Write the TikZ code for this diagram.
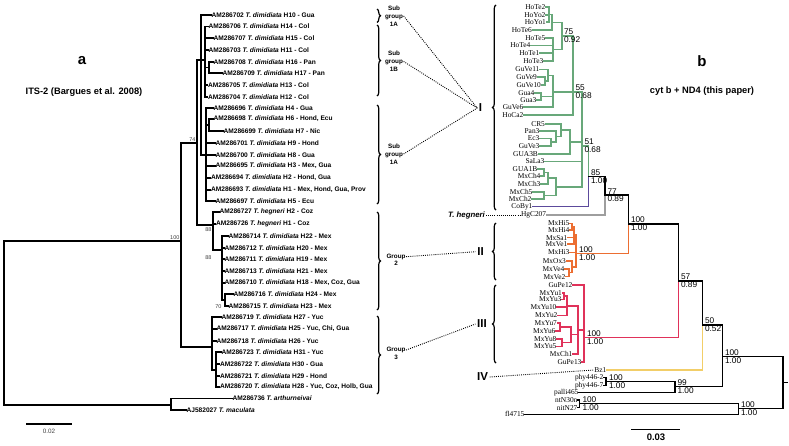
\documentclass[tikz,border=0pt]{standalone}
\usepackage{fontspec}
\setmainfont{Liberation Sans}
\newfontfamily\seriff{Liberation Serif}
\usepackage{tikz}
\usetikzlibrary{positioning,decorations.pathreplacing}
\definecolor{cladegreen}{RGB}{104,168,122}
\definecolor{cladepurple}{RGB}{92,74,156}
\definecolor{cladegray}{RGB}{158,158,158}
\definecolor{cladeorange}{RGB}{236,110,50}
\definecolor{cladered}{RGB}{224,50,90}
\definecolor{cladeyellow}{RGB}{242,206,104}
\newcommand{\td}{\textit{T. dimidiata}}
\newcommand{\support}[5]{%
  \node[bsup] (#1t) at (#2,#3) {#4};
  \node[bsdn] (#1b) at (#2,#3) {#5};}

\begin{document}
\begin{tikzpicture}[x=1pt, y=-1pt,
    tline/.style={line width=1.4pt, line cap=rect},
    bline/.style={line width=1.3pt, line cap=rect},
    gline/.style={bline, cladegreen},
    pline/.style={bline, cladepurple},
    eline/.style={bline, cladegray},
    oline/.style={bline, cladeorange},
    rline/.style={bline, cladered},
    yline/.style={bline, cladeyellow},
    lleaf/.style={anchor=west, inner sep=0.4pt, font=\bfseries\fontsize{6.6}{6.6}\selectfont},
    rleaf/.style={anchor=east, inner sep=0.4pt, font=\seriff\fontsize{7.4}{7.4}\selectfont},
    lboot/.style={inner sep=0.4pt, font=\fontsize{5.5}{5.5}\selectfont, black!75},
    bsup/.style={anchor=south west, inner sep=0.8pt, font=\fontsize{8.3}{8.3}\selectfont},
    bsdn/.style={anchor=north west, inner sep=0.8pt, font=\fontsize{8.3}{8.3}\selectfont},
    glabel/.style={align=center, inner sep=0.5pt, font=\bfseries\fontsize{6.3}{7.8}\selectfont},
    roman/.style={inner sep=1.5pt, font=\bfseries\fontsize{11.5}{11.5}\selectfont},
    brc/.style={line width=1.2pt, decorate, decoration={brace, amplitude=3.5pt}},
    dotline/.style={line width=0.9pt, dash pattern=on 0.9pt off 1.2pt},
    title/.style={font=\bfseries\fontsize{9.3}{9.3}\selectfont}]
  \useasboundingbox (0,0) rectangle (789,445);

  % Titles
  \node[font=\bfseries\fontsize{15}{15}\selectfont] (ta) at (82,61) {a};
  \node[title] (tasub) at (84,92) {ITS-2 (Bargues et al. 2008)};
  \node[font=\bfseries\fontsize{15}{15}\selectfont] (tb) at (702,61) {b};
  \node[title] (tbsub) at (702,91) {cyt b + ND4 (this paper)};

  % ITS-2 tree: leaves
  \foreach \acc/\txt/\y/\xp/\xl in {
      AM286702/{\td\ H10 - Gua}/15/201/211,
      AM286706/{\td\ H14 - Col}/26.5/205/208,
      AM286707/{\td\ H15 - Col}/38/205/213,
      AM286703/{\td\ H11 - Col}/50/205/208,
      AM286708/{\td\ H16 - Pan}/62/209/213,
      AM286709/{\td\ H17 - Pan}/73/209/222,
      AM286705/{\td\ H13 - Col}/85/205/207.5,
      AM286704/{\td\ H12 - Col}/97/205/207.5,
      AM286696/{\td\ H4 - Gua}/108/206/213,
      AM286698/{\td\ H6 - Hond, Ecu}/119/209/213,
      AM286699/{\td\ H7 - Nic}/131/209/223,
      AM286701/{\td\ H9 - Hond}/143/206/215,
      AM286700/{\td\ H8 - Gua}/155/206/215,
      AM286695/{\td\ H3 - Mex, Gua}/166/206/215,
      AM286694/{\td\ H2 - Hond, Gua}/178/206/210.5,
      AM286693/{\td\ H1 - Mex, Hond, Gua, Prov}/190/206/210.5,
      AM286697/{\td\ H5 - Ecu}/201/206/215,
      AM286727/{\textit{T. hegneri} H2 - Coz}/212/213/219,
      AM286726/{\textit{T. hegneri} H1 - Coz}/224/213/215.5,
      AM286714/{\td\ H22 - Mex}/236/222/228,
      AM286712/{\td\ H20 - Mex}/248/222/224,
      AM286711/{\td\ H19 - Mex}/259/222/224,
      AM286713/{\td\ H21 - Mex}/271/222/224,
      AM286710/{\td\ H18 - Mex, Coz, Gua}/283/222/224,
      AM286716/{\td\ H24 - Mex}/294/225/233,
      AM286715/{\td\ H23 - Mex}/306/225/228,
      AM286719/{\td\ H27 - Yuc}/317/212/221,
      AM286717/{\td\ H25 - Yuc, Chi, Gua}/329/212/216,
      AM286718/{\td\ H26 - Yuc}/341/212/216,
      AM286723/{\td\ H31 - Yuc}/352/216/221,
      AM286722/{\td\ H30 - Gua}/364/216/219.5,
      AM286721/{\td\ H29 - Hond}/376/216/219.5,
      AM286720/{\td\ H28 - Yuc, Coz, Holb, Gua}/387/216/219.5,
      AM286736/{\textit{T. arthurneivai}}/398.5/171/232,
      AJ582027/{\textit{T. maculata}}/410/171/186} {
    \node[lleaf] (\acc) at (\xl,\y) {\acc\ \txt};
    \draw[tline] (\xp,\y) -- (\acc.west);
  }
  % ITS-2 tree: inner branches
  \draw[tline] (4,241) -- (4,405);
  \draw[tline] (4,241) -- (181,241);
  \draw[tline] (4,405) -- (171,405);
  \draw[tline] (171,398.5) -- (171,410);
  \draw[tline] (181,143) -- (181,347);
  \draw[tline] (181,143) -- (197,143);
  \draw[tline] (197,60) -- (197,225);
  \draw[tline] (197,60) -- (205,60);
  \draw[tline] (201,15) -- (201,155);
  \draw[tline] (205,26.5) -- (205,97);
  \draw[tline] (205,67.5) -- (209,67.5);
  \draw[tline] (209,62) -- (209,73);
  \draw[tline] (201,155) -- (206,155);
  \draw[tline] (206,108) -- (206,201);
  \draw[tline] (206,125) -- (209,125);
  \draw[tline] (209,119) -- (209,131);
  \draw[tline] (197,225) -- (213,225);
  \draw[tline] (213,212) -- (213,250);
  \draw[tline] (213,250) -- (222,250);
  \draw[tline] (222,236) -- (222,300);
  \draw[tline] (222,300) -- (225,300);
  \draw[tline] (225,294) -- (225,306);
  \draw[tline] (181,347) -- (212,347);
  \draw[tline] (212,317) -- (212,370);
  \draw[tline] (212,370) -- (216,370);
  \draw[tline] (216,352) -- (216,387);
  \node[lboot, anchor=south east] (bt100) at (180,240) {100};
  \node[lboot, anchor=south east] (bt74) at (196,142) {74};
  \node[lboot, anchor=north east] (bt88a) at (212,227) {88};
  \node[lboot, anchor=north east] (bt88b) at (212,255) {88};
  \node[lboot, anchor=east] (bt70) at (222,306.5) {70};

  % scale bars
  \draw[line width=1.2pt] (26,424) -- (72,424);
  \node[font=\fontsize{6.3}{6.3}\selectfont, black!75] (sc02) at (49,431) {0.02};
  \draw[line width=1.4pt] (631,429.3) -- (680,429.3);
  \node[font=\bfseries\fontsize{9.5}{9.5}\selectfont] (sc03) at (656,437.5) {0.03};

  % groups of the ITS-2 tree
  \draw[brc] (377,9) -- (377,22.5);
  \draw[brc] (377,25) -- (377,96);
  \draw[brc] (377,105) -- (377,204);
  \draw[brc] (377,212) -- (377,310);
  \draw[brc] (377,316) -- (377,394);
  \node[glabel] (sub1a) at (394,16) {Sub\\group\\1A};
  \node[glabel] (sub1b) at (394,61.5) {Sub\\group\\1B};
  \node[glabel] (sub1c) at (394,154) {Sub\\group\\1A};
  \node[glabel] (grp2) at (396,256.7) {Group};
  \node[glabel, below=0.6pt of grp2] (grp2n) {2};
  \node[glabel] (grp3) at (396,350) {Group};
  \node[glabel, below=0.6pt of grp3] (grp3n) {3};

  % haplogroups of the mtDNA tree
  \draw[brc] (496,210) -- (496,5);
  \draw[brc] (496,280) -- (496,223);
  \draw[brc] (496,363) -- (496,285);
  \node[roman] (romI) at (480.5,108) {I};
  \node[roman] (romII) at (480.5,251.7) {II};
  \node[roman] (romIII) at (482,324) {III};
  \node[roman] (romIV) at (482.5,377) {IV};
  \node[font=\bfseries\itshape\fontsize{7.8}{7.8}\selectfont, inner sep=1pt] (hegn) at (466.5,215) {T. hegneri};

  % cyt b + ND4 tree: leaves
  \foreach \n/\y/\xe/\xn in {HoTe2/7/546/549, HoYo2/15/546/549, HoYo1/22/546.5/549,
      HoTe6/30/532.5/552, HoTe5/38/546/553, HoTe4/45.5/531/553, HoTe1/53/540/553,
      HoTe3/61/544/553, GuVe11/69.5/540/548, GuVe9/77/537.5/545, GuVe10/85/541.5/545,
      Gua4/93/535/541, Gua3/100/537/541, GuVe6/107/524/553, HoCa2/115/524/573,
      CR5/124/545.5/561, Pan3/131/540/556, Ec3/138.5/540/551, GuVe3/146/540/551,
      GUA3B/154/538.5/570, SaLa3/161.5/545/582, GUA1B/169/538/544, MxCh4/176/541/544,
      MxCh3/184/541/548, MxCh5/192/533/544, MxCh2/199/532/544} {
    \node[rleaf] (\n) at (\xe,\y) {\n};
    \draw[gline] (\n.east) -- (\xn,\y);
  }
  \foreach \n/\y/\xe/\xn in {MxHi5/223.3/570/572, MxHi4/230/570/572, MxSa1/237.7/568/574,
      MxVe1/244/568/574, MxHi3/252.3/570/576, MxOx3/261/566.5/572, MxVe4/269/565/569,
      MxVe2/276.7/566/569} {
    \node[rleaf] (\n) at (\xe,\y) {\n};
    \draw[oline] (\n.east) -- (\xn,\y);
  }
  \foreach \n/\y/\xe/\xn in {GuPe12/285/573/584, MxYu1/293/562.5/564, MxYu3/299.5/562/564,
      MxYu10/307/557/567, MxYu2/315.5/558/567, MxYu7/323/557.5/560, MxYu6/331/556/560,
      MxYu8/339/557/562, MxYu5/346.5/557/562, MxCh1/354/573/578, GuPe13/362/582/584} {
    \node[rleaf] (\n) at (\xe,\y) {\n};
    \draw[rline] (\n.east) -- (\xn,\y);
  }
  \node[rleaf] (CoBy1) at (533,206.7) {CoBy1};
  \draw[pline] (CoBy1.east) -- (588.3,206.7);
  \node[rleaf] (HgC207) at (546.7,215) {HgC207};
  \draw[eline] (HgC207.east) -- (605,215);
  \node[rleaf] (Bz1) at (607,370) {Bz1};
  \draw[yline] (Bz1.east) -- (702.7,370);
  \node[rleaf] (phyA) at (604,377.7) {phy446-2};
  \draw[bline] (phyA.east) -- (606,377.7);
  \node[rleaf] (phyB) at (604,385.7) {phy446-7};
  \draw[bline] (phyB.east) -- (606,385.7);
  \node[rleaf] (palli) at (579,392.7) {palli465};
  \draw[bline] (palli.east) -- (675,392.7);
  \node[rleaf] (ntN30n) at (578,400) {ntN30n};
  \draw[bline] (ntN30n.east) -- (579.5,400);
  \node[rleaf] (nitN27) at (578,407.7) {nitN27};
  \draw[bline] (nitN27.east) -- (579.5,407.7);
  \node[rleaf] (fl4715) at (525,414.3) {fl4715};
  \draw[bline] (fl4715.east) -- (738.3,414.3);

  % cyt b + ND4 tree: green clade
  \draw[gline] (549,7) -- (549,22);
  \draw[gline] (549,14.5) -- (552,14.5);
  \draw[gline] (552,14.5) -- (552,30);
  \draw[gline] (552,22.3) -- (562,22.3);
  \draw[gline] (553,38) -- (553,61);
  \draw[gline] (553,49.5) -- (562,49.5);
  \draw[gline] (562,22.3) -- (562,49.5);
  \draw[gline] (562,36) -- (573,36);
  \draw[gline] (545,77) -- (545,85);
  \draw[gline] (545,81) -- (548,81);
  \draw[gline] (548,69.5) -- (548,81);
  \draw[gline] (548,75.3) -- (553,75.3);
  \draw[gline] (541,93) -- (541,100);
  \draw[gline] (541,96.5) -- (553,96.5);
  \draw[gline] (553,75.3) -- (553,107);
  \draw[gline] (553,92) -- (573,92);
  \draw[gline] (573,36) -- (573,115);
  \draw[gline] (573,92) -- (582,92);
  \draw[gline] (551,138.5) -- (551,146);
  \draw[gline] (551,142) -- (556,142);
  \draw[gline] (556,131) -- (556,142);
  \draw[gline] (556,136.5) -- (561,136.5);
  \draw[gline] (561,124) -- (561,136.5);
  \draw[gline] (561,130) -- (570,130);
  \draw[gline] (570,130) -- (570,154);
  \draw[gline] (570,142) -- (582,142);
  \draw[gline] (544,169) -- (544,176);
  \draw[gline] (544,172.5) -- (548,172.5);
  \draw[gline] (548,172.5) -- (548,184);
  \draw[gline] (548,178) -- (556,178);
  \draw[gline] (544,192) -- (544,199);
  \draw[gline] (544,195.5) -- (556,195.5);
  \draw[gline] (556,178) -- (556,195.5);
  \draw[gline] (556,187) -- (582,187);
  \draw[gline] (582,92) -- (582,187);
  \draw[gline] (582,146) -- (588.3,146);
  % orange clade
  \draw[oline] (572,223.3) -- (572,230);
  \draw[oline] (572,226.7) -- (574,226.7);
  \draw[oline] (574,226.7) -- (574,244);
  \draw[oline] (574,235) -- (576,235);
  \draw[oline] (569,269) -- (569,276.7);
  \draw[oline] (569,272.8) -- (572,272.8);
  \draw[oline] (572,261) -- (572,272.8);
  \draw[oline] (572,267) -- (576,267);
  \draw[oline] (576,235) -- (576,267);
  \draw[oline] (576,253.3) -- (628.3,253.3);
  % red clade
  \draw[rline] (564,293) -- (564,299.5);
  \draw[rline] (564,296) -- (567,296);
  \draw[rline] (567,296) -- (567,315.5);
  \draw[rline] (567,306) -- (578,306);
  \draw[rline] (560,323) -- (560,331);
  \draw[rline] (560,327) -- (571,327);
  \draw[rline] (562,339) -- (562,346.5);
  \draw[rline] (562,342.7) -- (571,342.7);
  \draw[rline] (571,327) -- (571,342.7);
  \draw[rline] (571,334.8) -- (578,334.8);
  \draw[rline] (578,306) -- (578,354);
  \draw[rline] (578,330) -- (584,330);
  \draw[rline] (584,285) -- (584,362);
  \draw[rline] (584,337.3) -- (678.3,337.3);
  % backbone
  \draw[gline] (588.3,146) -- (588.3,176.7);
  \draw[pline] (588.3,176.7) -- (588.3,206.7);
  \draw[bline] (588.3,176.7) -- (605,176.7);
  \draw[bline] (605,176.7) -- (605,195);
  \draw[eline] (605,195) -- (605,215);
  \draw[bline] (605,195) -- (628.3,195);
  \draw[bline] (628.3,195) -- (628.3,224);
  \draw[oline] (628.3,224) -- (628.3,253.3);
  \draw[bline] (628.3,224) -- (678.3,224);
  \draw[bline] (678.3,224) -- (678.3,281);
  \draw[rline] (678.3,281) -- (678.3,337.3);
  \draw[bline] (678.3,281) -- (702.7,281);
  \draw[bline] (702.7,281) -- (702.7,325);
  \draw[yline] (702.7,325) -- (702.7,370);
  \draw[bline] (702.7,325) -- (722.7,325);
  \draw[bline] (606,377.7) -- (606,385.7);
  \draw[bline] (606,381.7) -- (675,381.7);
  \draw[bline] (675,381.7) -- (675,392.7);
  \draw[bline] (675,386.7) -- (722.7,386.7);
  \draw[bline] (722.7,325) -- (722.7,386.7);
  \draw[bline] (722.7,356.7) -- (783,356.7);
  \draw[bline] (579.5,400) -- (579.5,407.7);
  \draw[bline] (579.5,403.3) -- (738.3,403.3);
  \draw[bline] (738.3,403.3) -- (738.3,414.3);
  \draw[bline] (738.3,408.8) -- (783,408.8);
  \draw[bline] (783,356.7) -- (783,408.8);
  \draw[bline] (783,382.5) -- (787,382.5);

  % support values
  \support{s75}{563}{36}{75}{0.92}
  \support{s55}{574.5}{92}{55}{0.68}
  \support{s51}{583.5}{146}{51}{0.68}
  \support{s85}{590}{176.7}{85}{1.00}
  \support{s77}{606.5}{195}{77}{0.89}
  \support{s100a}{630}{224}{100}{1.00}
  \support{so}{578}{253.3}{100}{1.00}
  \support{sr}{586}{337.3}{100}{1.00}
  \support{s57}{680}{281}{57}{0.89}
  \support{s50}{704}{325}{50}{0.52}
  \support{s100b}{724}{356.7}{100}{1.00}
  \support{sp}{608}{381.7}{100}{1.00}
  \support{s99}{676.5}{386.7}{99}{1.00}
  \support{sn}{581.5}{403.3}{100}{1.00}
  \support{sf}{740}{408.8}{100}{1.00}

  % dotted links
  \draw[dotline] (sub1a.east) -- (romI.west);
  \draw[dotline] (sub1b.east) -- (romI.west);
  \draw[dotline] (sub1c.east) -- (romI.west);
  \draw[dotline] (grp2.east) -- (romII.west);
  \draw[dotline] (grp3.east) -- (romIII.west);
  \draw[dotline] (hegn.east) -- (HgC207.west);
  \draw[dotline] (romIV.east) -- (Bz1.west);
\end{tikzpicture}
\end{document}
